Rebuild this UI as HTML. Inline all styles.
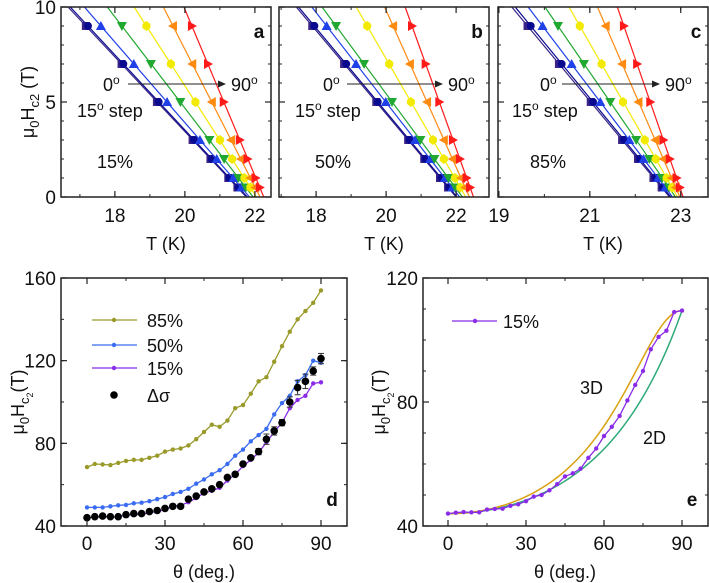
<!DOCTYPE html>
<html><head><meta charset="utf-8"><style>
body{margin:0;background:#fff}
svg{display:block;font-family:"Liberation Sans",sans-serif}
</style></head><body>
<svg id="fig" width="709" height="583" viewBox="0 0 709 583"></svg>
<script>
// ---------- Data: top panels (T in K at each field H in T) ----------
const fieldsH = [9, 7, 5, 3, 2, 1, 0.5];
const angleLabels = ["0","15","30","45","60","75","90"];
const panelA_T = [
 [17.17,18.19,19.20,20.22,20.73,21.24,21.50],
 [17.23,18.24,19.25,20.26,20.77,21.27,21.53],
 [17.60,18.54,19.49,20.43,20.91,21.38,21.61],
 [18.20,19.03,19.87,20.70,21.12,21.53,21.74],
 [18.90,19.60,20.30,21.00,21.35,21.70,21.87],
 [19.66,20.21,20.77,21.32,21.60,21.87,22.01],
 [20.20,20.66,21.11,21.57,21.79,22.02,22.14]];
const panelB_T = [
 [17.89,18.80,19.72,20.63,21.09,21.54,21.77],
 [17.95,18.86,19.76,20.67,21.12,21.58,21.80],
 [18.30,19.14,19.99,20.83,21.26,21.68,21.89],
 [18.57,19.37,20.17,20.98,21.38,21.78,21.98],
 [19.46,20.09,20.71,21.34,21.65,21.97,22.12],
 [20.20,20.68,21.17,21.65,21.90,22.14,22.26],
 [20.74,21.13,21.52,21.91,22.11,22.30,22.40]];
const panelC_T = [
 [19.63,20.32,21.02,21.71,22.06,22.40,22.58],
 [19.70,20.38,21.07,21.75,22.10,22.44,22.61],
 [19.96,20.60,21.23,21.87,22.18,22.50,22.66],
 [20.30,20.87,21.45,22.02,22.31,22.59,22.74],
 [20.78,21.26,21.73,22.21,22.45,22.69,22.81],
 [21.35,21.71,22.07,22.44,22.62,22.80,22.89],
 [21.75,22.04,22.33,22.62,22.76,22.91,22.98]];
// ---------- Data: panel d / e (Hc2 vs angle) ----------
const thetaDeg = [0,3,6,9,12,15,18,21,24,27,30,33,36,39,42,45,48,51,54,57,60,63,66,69,72,75,78,81,84,87,90];
const hc85 = [68.5,70,69.8,69.5,70.5,71.5,72,72,73,74,76,77,77.5,79,82,85.5,89,88,91,97,98.5,104,110,112,119.5,127,134,140,144,148,154];
const hc50 = [49,49,49,49.5,50,50.2,51,51.3,52,53,54,55.5,56.5,58,60.5,62.5,65,67,70,74,77,81,84,87,94,99.5,103,110,113,120,119];
const hc15 = [44,44.3,44.5,44.4,44.4,45.3,45.5,45.6,46.5,47,48,49.5,50,51.5,53.5,56,57,58.5,62,65,69,72,75.5,80.5,85.5,90,97,101,103,109,109.5];
const hcSigma = [44,44.5,44.8,44.5,44.5,45.5,46,46,47,47.5,48.5,49.5,49.5,53,54.5,56.5,58,60,63.5,65,70,73,76,82,86,90,100,107,110,115,121];
const sigmaErr = [1,0.5,0.5,0.5,0.5,0.5,0.5,0.5,0.5,0.5,0.5,0.5,0.5,0.8,0.8,0.8,0.8,0.8,0.8,0.8,1,1,1.5,2.5,2,1.5,2.5,3.5,3.5,2,2.5];

const NS="http://www.w3.org/2000/svg";
const svg=document.getElementById('fig');
const TICK=19, ANN=18;
function mk(tag,attrs,parent){const e=document.createElementNS(NS,tag);for(const k in attrs)e.setAttribute(k,attrs[k]);(parent||svg).appendChild(e);return e;}
function txt(x,y,s,size,parent,anchor,weight){const t=mk('text',{x:x,y:y,'font-size':size,'text-anchor':anchor||'middle','font-weight':weight||'normal',fill:'#111'},parent);t.textContent=s;return t;}

const colors=["#3a2488","#0a0a90","#2040e8","#20a830","#f2ea00","#ff8a10","#ff1a1a"];
function marker(g,type,x,y,c){
  const s=4;let e;
  if(type==0) e=mk('rect',{x:x-s,y:y-s,width:2*s,height:2*s,fill:c},g);
  else if(type==1) e=mk('circle',{cx:x,cy:y,r:s,fill:c},g);
  else if(type==2) e=mk('polygon',{points:`${x},${y-s-1} ${x+s+1},${y+s} ${x-s-1},${y+s}`,fill:c},g);
  else if(type==3) e=mk('polygon',{points:`${x},${y+s+1} ${x+s+1},${y-s} ${x-s-1},${y-s}`,fill:c},g);
  else if(type==4) e=mk('polygon',{points:`${x},${y-s-1} ${x+s},${y-s/2} ${x+s},${y+s/2} ${x},${y+s+1} ${x-s},${y+s/2} ${x-s},${y-s/2}`,fill:c},g);
  else if(type==5) e=mk('polygon',{points:`${x-s-1},${y} ${x+s},${y-s-1} ${x+s},${y+s+1}`,fill:c},g);
  else e=mk('polygon',{points:`${x+s+1},${y} ${x-s},${y-s-1} ${x-s},${y+s+1}`,fill:c},g);
  
  
}

function axesFrame(g,L,R,T,B){
  mk('rect',{x:L,y:T,width:R-L,height:B-T,fill:'none',stroke:'#222','stroke-width':1.5,},g);
}
function ticksX(g,sx,vals,minor,T,B,labels,ly){
  minor.forEach(v=>{const x=sx(v);mk('line',{x1:x,x2:x,y1:B,y2:B-3,stroke:'#222'},g);mk('line',{x1:x,x2:x,y1:T,y2:T+3,stroke:'#222'},g);});
  vals.forEach((v,i)=>{const x=sx(v);mk('line',{x1:x,x2:x,y1:B,y2:B-6,stroke:'#222','stroke-width':1.2},g);mk('line',{x1:x,x2:x,y1:T,y2:T+6,stroke:'#222','stroke-width':1.2},g);
    if(labels){const t=txt(x,ly,labels[i],TICK,g);}});
}
function ticksY(g,sy,vals,minor,L,R,labels){
  minor.forEach(v=>{const y=sy(v);mk('line',{x1:L,x2:L+3,y1:y,y2:y,stroke:'#222'},g);mk('line',{x1:R,x2:R-3,y1:y,y2:y,stroke:'#222'},g);});
  vals.forEach((v,i)=>{const y=sy(v);mk('line',{x1:L,x2:L+6,y1:y,y2:y,stroke:'#222','stroke-width':1.2},g);mk('line',{x1:R,x2:R-6,y1:y,y2:y,stroke:'#222','stroke-width':1.2},g);
    if(labels){const t=txt(L-5,y+7,labels[i],TICK,g,'end');}});
}
function range(a,b,s){const r=[];for(let v=a;v<=b+1e-9;v+=s)r.push(+v.toFixed(4));return r;}

// ---------- Top panels ----------
function topPanel(name,L,R,tmin,tmax,data,xt,xminor,letter,pct,ann,showY){
  const g=mk('g',{});
  const T=7,B=197;
  const sx=v=>L+(v-tmin)/(tmax-tmin)*(R-L);
  const sy=v=>B-v/10*(B-T);
  const clip=mk('clipPath',{id:'clip-'+name},g);
  mk('rect',{x:L,y:T,width:R-L,height:B-T},clip);
  const dg=mk('g',{'clip-path':`url(#clip-${name})`},g);
  data.forEach((ser,i)=>{
    const n=ser.length;
    const slope=(fieldsH[0]-fieldsH[n-1])/(ser[0]-ser[n-1]);
    const t0=ser[n-1]+(0-fieldsH[n-1])/slope, t10=ser[0]+(10-fieldsH[0])/slope;
    const ln=mk('line',{x1:sx(t0),y1:sy(0),x2:sx(t10),y2:sy(10),stroke:colors[i],'stroke-width':1.2},dg);
    
    
    ser.forEach((t,j)=>marker(dg,i,sx(t),sy(fieldsH[j]),colors[i]));
  });
  axesFrame(g,L,R,T,B);
  ticksX(g,sx,xt,xminor,T,B,xt.map(String),222);
  ticksY(g,sy,[0,5,10],range(0,10,1),L,R,showY?["0","5","10"]:null);
  const xl=txt((L+R)/2,250,"T (K)",ANN,g);
  const lt=txt(R-12,38,letter,19,g,'middle','bold');
  const a0=txt(ann[0],91,"0",ANN,g,'start');a0.innerHTML='0<tspan dy="-7" font-size="12">o</tspan>';
  mk('line',{x1:ann[1],y1:84,x2:ann[2]-6,y2:84,stroke:'#222','stroke-width':1,},g);
  mk('polygon',{points:`${ann[2]},84 ${ann[2]-8},80.5 ${ann[2]-8},87.5`,fill:'#222'},g);
  const a9=txt(ann[2]+5,91,"",ANN,g,'start');a9.innerHTML='90<tspan dy="-7" font-size="12">o</tspan>';
  const st=txt(ann[3],117,"",ANN,g,'start');st.innerHTML='15<tspan dy="-7" font-size="12">o</tspan><tspan dy="7"> step</tspan>';
  const p=txt(ann[4],168,pct,ANN,g,'start');
}
topPanel('panel-a',61,271,16.46,22.46,panelA_T,[18,20,22],range(17,22,1),'a','15%',[103,128,226,77,97],true);
topPanel('panel-b',279,489,16.94,22.94,panelB_T,[18,20,22],range(17,22,1),'b','50%',[323,347,443,295,315],false);
topPanel('panel-c',498,708,18.98,23.6,panelC_T,[19,21,23],range(19,23,1),'c','85%',[540,562,660,512,530],false);
{const yl=mk('text',{transform:'translate(34,102) rotate(-90)','font-size':ANN,'text-anchor':'middle',fill:'#111',});
 yl.innerHTML='μ<tspan dy="5" font-size="13">0</tspan><tspan dy="-5">H</tspan><tspan dy="5" font-size="13">c2</tspan><tspan dy="-5"> (T)</tspan>';}

// ---------- Panel d ----------
function ylabelBottom(x){const yl=mk('text',{transform:`translate(${x},402) rotate(-90)`,'font-size':ANN,'text-anchor':'middle',fill:'#111',});
 yl.innerHTML='μ<tspan dy="5" font-size="13">0</tspan><tspan dy="-5">H</tspan><tspan dy="5" font-size="13">c</tspan><tspan dy="4" font-size="9">2</tspan><tspan dy="-9">(T)</tspan>';}
function polyline(g,sx,sy,ys,c,name){
  const pts=thetaDeg.map((t,i)=>sx(t)+','+sy(ys[i])).join(' ');
  const pl=mk('polyline',{points:pts,fill:'none',stroke:c,'stroke-width':1.3},g);
  
  
  thetaDeg.forEach((t,i)=>{const d=mk('circle',{cx:sx(t),cy:sy(ys[i]),r:2.2,fill:c},g);
    
    });
}
{
  const g=mk('g',{});
  const L=61,R=347,T=278,B=526;
  const sx=v=>87+v/90*(321-87), sy=v=>B-(v-40)/120*(B-T);
  polyline(g,sx,sy,hc85,'#999a2a','series-85pct');
  polyline(g,sx,sy,hc50,'#3a6cf2','series-50pct');
  polyline(g,sx,sy,hc15,'#8a2be8','series-15pct');
  thetaDeg.forEach((t,i)=>{
    const x=sx(t),y1=sy(hcSigma[i]-sigmaErr[i]),y2=sy(hcSigma[i]+sigmaErr[i]);
    if(sigmaErr[i]>1){mk('line',{x1:x,x2:x,y1:y1,y2:y2,stroke:'#333'},g);mk('line',{x1:x-3,x2:x+3,y1:y1,y2:y1,stroke:'#333'},g);mk('line',{x1:x-3,x2:x+3,y1:y2,y2:y2,stroke:'#333'},g);}
    const c=mk('circle',{cx:x,cy:sy(hcSigma[i]),r:3.8,fill:'#000'},g);
    
    
  });
  axesFrame(g,L,R,T,B);
  ticksX(g,sx,[0,30,60,90],range(-15,105,15).filter(v=>v>-10&&v<100),T,B,["0","30","60","90"],550);
  ticksY(g,sy,[40,80,120,160],range(40,160,20),L,R,["40","80","120","160"]);
  const xl=txt(204,578,"θ (deg.)",ANN,g);
  const lt=txt(332,506,'d',19,g,'middle','bold');
  const leg=[["85%",'#999a2a',320],["50%",'#3a6cf2',345],["15%",'#8a2be8',368]];
  leg.forEach(l=>{const lg=mk('g',{},g);
    mk('line',{x1:92,x2:137,y1:l[2],y2:l[2],stroke:l[1],'stroke-width':1.3},lg);mk('circle',{cx:114,cy:l[2],r:2.2,fill:l[1]},lg);txt(147,l[2]+7,l[0],ANN,lg,'start');});
  const lg=mk('g',{},g);
  mk('circle',{cx:114,cy:395,r:3.8,fill:'#000'},lg);txt(147,402,"Δσ",ANN,lg,'start');
  ylabelBottom(24);
}
// ---------- Panel e ----------
{
  const g=mk('g',{});
  const L=423,R=708,T=278,B=526;
  const sx=v=>448+v/90*(682-448), sy=v=>B-(v-40)/80*(B-T);
  const H0=hc15[0],H90=hc15[hc15.length-1];
  const p3=[],p2=[];
  for(let t=0;t<=90;t+=1){const r=t*Math.PI/180,c=Math.cos(r),s=Math.sin(r);
    p3.push(sx(t)+','+sy(1/Math.sqrt(c*c/(H0*H0)+s*s/(H90*H90))));
    const a=s*s/(H90*H90),b=c/H0;let h=a>1e-12?(-b+Math.sqrt(b*b+4*a))/(2*a):H0;
    p2.push(sx(t)+','+sy(h));}
  mk('polyline',{points:p2.join(' '),fill:'none',stroke:'#2eaa78','stroke-width':1.5,},g);
  mk('polyline',{points:p3.join(' '),fill:'none',stroke:'#d9a010','stroke-width':1.5,},g);
  polyline(g,sx,sy,hc15,'#8a2be8','series-15pct-e');
  axesFrame(g,L,R,T,B);
  ticksX(g,sx,[0,30,60,90],range(-15,105,15).filter(v=>v>-10&&v<100),T,B,["0","30","60","90"],550);
  ticksY(g,sy,[40,80,120],range(40,120,10),L,R,["40","80","120"]);
  const xl=txt(565,578,"θ (deg.)",ANN,g);
  const lt=txt(692,506,'e',19,g,'middle','bold');
  const lg=mk('g',{},g);
  mk('line',{x1:452,x2:497,y1:321,y2:321,stroke:'#8a2be8','stroke-width':1.3},lg);mk('circle',{cx:475,cy:321,r:2.2,fill:'#8a2be8'},lg);txt(503,328,"15%",ANN,lg,'start');
  const l3=txt(580,394,"3D",ANN,g,'start');
  const l2=txt(643,444,"2D",ANN,g,'start');
  ylabelBottom(385);
}
</script>
</body></html>
